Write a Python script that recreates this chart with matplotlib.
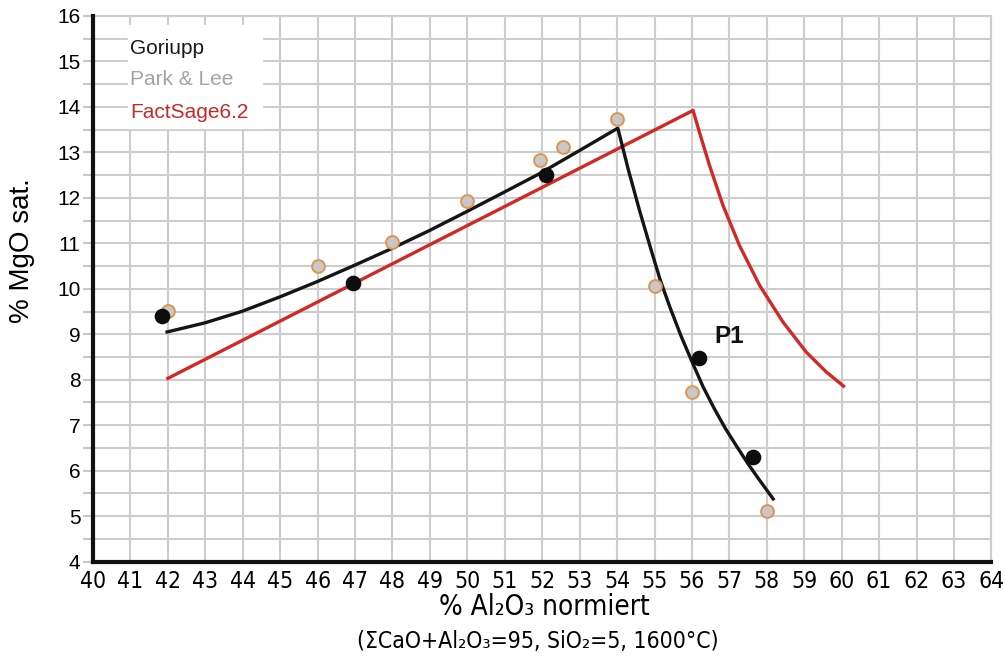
import matplotlib
matplotlib.use("Agg")
import matplotlib.pyplot as plt

# Goriupp (measured, black dots)
gor_x = [41.85, 46.95, 52.1, 56.2, 57.62]
gor_y = [9.4, 10.12, 12.5, 8.48, 6.3]

# Park & Lee (grey dots, orange rim)
pl_x = [42.0, 46.0, 48.0, 50.0, 51.95, 52.55, 54.0, 55.0, 56.0, 58.0]
pl_y = [9.52, 10.5, 11.03, 11.92, 12.82, 13.12, 13.73, 10.05, 7.72, 5.12]

# Goriupp model curve
gor_line_x = [41.98, 42.99, 43.97, 44.99, 45.97, 46.97, 47.97, 48.99, 49.97,
              51.0, 51.93, 53.0, 54.02,
              54.3, 54.6, 54.9, 55.15, 55.4, 55.7, 56.0, 56.3, 56.6, 56.9,
              57.2, 57.5, 57.8, 58.17]
gor_line_y = [9.05, 9.25, 9.5, 9.82, 10.15, 10.51, 10.88, 11.28, 11.69,
              12.13, 12.53, 13.04, 13.53,
              12.62, 11.72, 10.88, 10.2, 9.62, 8.98, 8.4, 7.84, 7.36, 6.92,
              6.53, 6.15, 5.8, 5.38]

# FactSage6.2 curve
fs_x = [42.0, 56.03, 56.2, 56.47, 56.83, 57.27, 57.81, 58.43, 59.05, 59.59, 60.05]
fs_y = [8.03, 13.92, 13.44, 12.71, 11.83, 10.95, 10.07, 9.27, 8.61, 8.17, 7.86]

sans = ["Liberation Sans", "DejaVu Sans"]
narrow = ["DejaVu Sans"]

fig = plt.figure(figsize=(10.05, 6.57), dpi=100)
ax = fig.add_axes([0.0925, 0.145, 0.894, 0.831])

ax.set_xlim(40, 64)
ax.set_ylim(4, 16)
ax.set_xticks(range(40, 65))
ax.set_yticks([v / 2 for v in range(8, 33)])
ax.set_yticklabels([str(int(v / 2)) if v % 2 == 0 else "" for v in range(8, 33)],
                   family=sans, fontsize=15)
ax.set_xticklabels([str(v) for v in range(40, 65)], family=narrow,
                   fontstretch="condensed", fontsize=16.5)
ax.tick_params(axis="y", length=7, color="#c8c8c8", width=1.5, pad=2)
ax.tick_params(axis="x", length=0, pad=6)
ax.grid(True, color="#cdcdcd", linewidth=1.5)
ax.set_axisbelow(True)

for side in ["top", "right"]:
    ax.spines[side].set_color("#cdcdcd")
    ax.spines[side].set_linewidth(1.5)
for side in ["left", "bottom"]:
    ax.spines[side].set_color("#111111")
    ax.spines[side].set_linewidth(3)
    ax.spines[side].set_zorder(5)

# legend box (white patch hiding the grid)
ax.fill_between([40.93, 44.51], 13.54, 15.8, color="white", zorder=1)
ax.text(40.99, 15.27, "Goriupp", color="#1a1a1a", fontsize=15, family=sans, va="center")
ax.text(40.99, 14.59, "Park & Lee", color="#a3a3a3", fontsize=15, family=sans, va="center")
ax.text(40.99, 13.87, "FactSage6.2", color="#c8282a", fontsize=15, family=sans, va="center")

ax.plot(fs_x, fs_y, color="#d02a26", linewidth=2.4, zorder=3)
ax.plot(gor_line_x, gor_line_y, color="#151515", linewidth=2.4, zorder=3)
ax.scatter(pl_x, pl_y, s=85, facecolor="#c8c8c8", edgecolor="#dc9650",
           linewidth=1.4, zorder=4)
ax.scatter(gor_x, gor_y, s=105, color="#0d0d0d", zorder=4)

ax.text(56.6, 8.95, "P1", fontsize=17.5, fontweight="bold", family=sans,
        color="#111111", va="center")

ax.set_ylabel("% MgO sat.", fontsize=20, family=sans)
ax.yaxis.set_label_coords(-0.064, 0.57)
fig.text(0.542, 0.076, "% Al\u2082O\u2083 normiert", ha="center", va="center",
         fontsize=20, family=narrow, fontstretch="condensed")
fig.text(0.535, 0.024, "(\u03a3CaO+Al\u2082O\u2083=95, SiO\u2082=5, 1600\u00b0C)",
         ha="center", va="center", fontsize=16.5, family=narrow,
         fontstretch="condensed")

fig.savefig("out.png", dpi=100)
